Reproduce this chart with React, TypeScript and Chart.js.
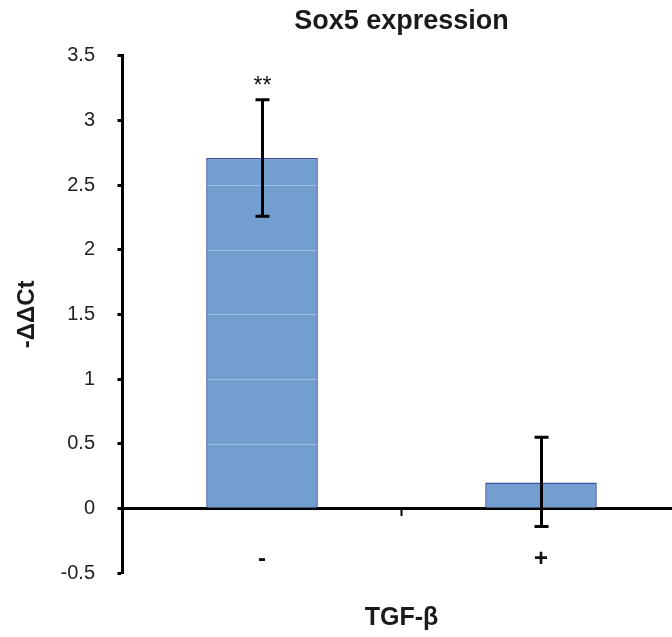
import React, { useEffect, useRef } from "react";
import { Chart, registerables } from "chart.js";

Chart.register(...registerables);

const categories = ["-", "+"];
const values = [2.71, 0.2];
const errLow = [2.26, -0.14];
const errHigh = [3.16, 0.55];
const significance = ["**", ""];
const yMin = -0.5;
const yMax = 3.5;
const yStep = 0.5;

const FONT = "'Liberation Sans', Arial, Helvetica, sans-serif";

export default function App() {
  const ref = useRef<HTMLCanvasElement>(null);

  useEffect(() => {
    const canvas = ref.current;
    if (!canvas) return;

    const overlay = {
      id: "overlay",
      afterDatasetsDraw(chart: any) {
        const c = chart.ctx;
        const ys = chart.scales.y;
        const meta = chart.getDatasetMeta(0);
        c.save();
        // faint gridlines visible only inside the bars
        meta.data.forEach((bar: any) => {
          const p = bar.getProps(["x", "y", "base", "width"], true);
          const top = Math.min(p.y, p.base);
          const bottom = Math.max(p.y, p.base);
          c.save();
          c.beginPath();
          c.rect(p.x - p.width / 2 + 1, top + 1, p.width - 2, bottom - top - 1);
          c.clip();
          c.strokeStyle = "rgba(255,255,255,0.3)";
          c.lineWidth = 1;
          ys.ticks.forEach((t: any) => {
            if (t.value === 0) return;
            const py = Math.round(ys.getPixelForValue(t.value)) + 0.5;
            c.beginPath();
            c.moveTo(p.x - p.width / 2, py);
            c.lineTo(p.x + p.width / 2, py);
            c.stroke();
          });
          c.restore();
        });
        // error bars and significance marks
        c.strokeStyle = "#000";
        c.lineWidth = 3;
        meta.data.forEach((bar: any, i: number) => {
          const x = Math.round(bar.x) + 0.5;
          const hi = ys.getPixelForValue(errHigh[i]);
          const lo = ys.getPixelForValue(errLow[i]);
          c.beginPath();
          c.moveTo(x, hi);
          c.lineTo(x, lo);
          c.moveTo(x - 7, hi);
          c.lineTo(x + 7, hi);
          c.moveTo(x - 7, lo);
          c.lineTo(x + 7, lo);
          c.stroke();
          if (significance[i]) {
            c.fillStyle = "#111";
            c.font = `23px ${FONT}`;
            c.textAlign = "center";
            c.textBaseline = "middle";
            c.fillText(significance[i], x, hi - 13);
          }
        });
        c.restore();
      },
    };

    const chart = new Chart(canvas, {
      type: "bar",
      data: {
        labels: categories,
        datasets: [
          {
            data: values,
            backgroundColor: "#739fd0",
            borderColor: "#3d4fa2",
            borderWidth: 1.5,
            categoryPercentage: 1,
            barPercentage: 0.4,
          },
        ],
      },
      options: {
        responsive: false,
        animation: false,
        devicePixelRatio: 1,
        layout: { padding: { left: 0, right: 19.5, top: 0, bottom: 64 } },
        plugins: {
          legend: { display: false },
          tooltip: { enabled: false },
          title: {
            display: true,
            text: "Sox5 expression",
            fullSize: false,
            color: "#1a1a1a",
            font: { family: FONT, size: 27, weight: "bold" },
            padding: { top: 5, bottom: 18.5 },
          },
        },
        scales: {
          x: {
            position: { y: 0 },
            z: 1,
            grid: {
              display: true,
              drawOnChartArea: false,
              offset: true,
              tickLength: 6,
              tickWidth: 2,
              tickColor: "#000",
              color: "#000",
            },
            border: { display: true, color: "#000", width: 3 },
            ticks: {
              color: "#111",
              padding: 30.8,
              font: { family: FONT, size: 24, weight: "bold" },
            },
            title: {
              display: true,
              text: "TGF-β",
              color: "#1a1a1a",
              font: { family: FONT, size: 25, weight: "bold" },
              padding: { top: -2, bottom: 0 },
            },
          },
          y: {
            min: yMin,
            max: yMax,
            z: 1,
            afterFit: (scale: any) => {
              scale.width = 122.5;
            },
            grid: {
              display: true,
              drawOnChartArea: false,
              tickLength: 5,
              tickWidth: 3,
              tickColor: "#000",
              color: "#000",
            },
            border: { display: true, color: "#000", width: 3 },
            ticks: {
              stepSize: yStep,
              color: "#222",
              padding: 22.5,
              font: { family: FONT, size: 20 },
              callback: (v: any) => String(Number(Number(v).toFixed(2))),
            },
            title: {
              display: true,
              text: "-ΔΔCt",
              color: "#1a1a1a",
              font: { family: FONT, size: 24, weight: "bold" },
              padding: { top: 12.5, bottom: 0 },
            },
          },
        },
      },
      plugins: [overlay],
    });

    return () => chart.destroy();
  }, []);

  return (
    <div
      style={{
        position: "fixed",
        left: 0,
        top: 0,
        width: 672,
        height: 637,
        overflow: "hidden",
        background: "#fff",
      }}
    >
      <canvas ref={ref} width={700} height={637} style={{ display: "block", width: 700, height: 637 }} />
    </div>
  );
}
